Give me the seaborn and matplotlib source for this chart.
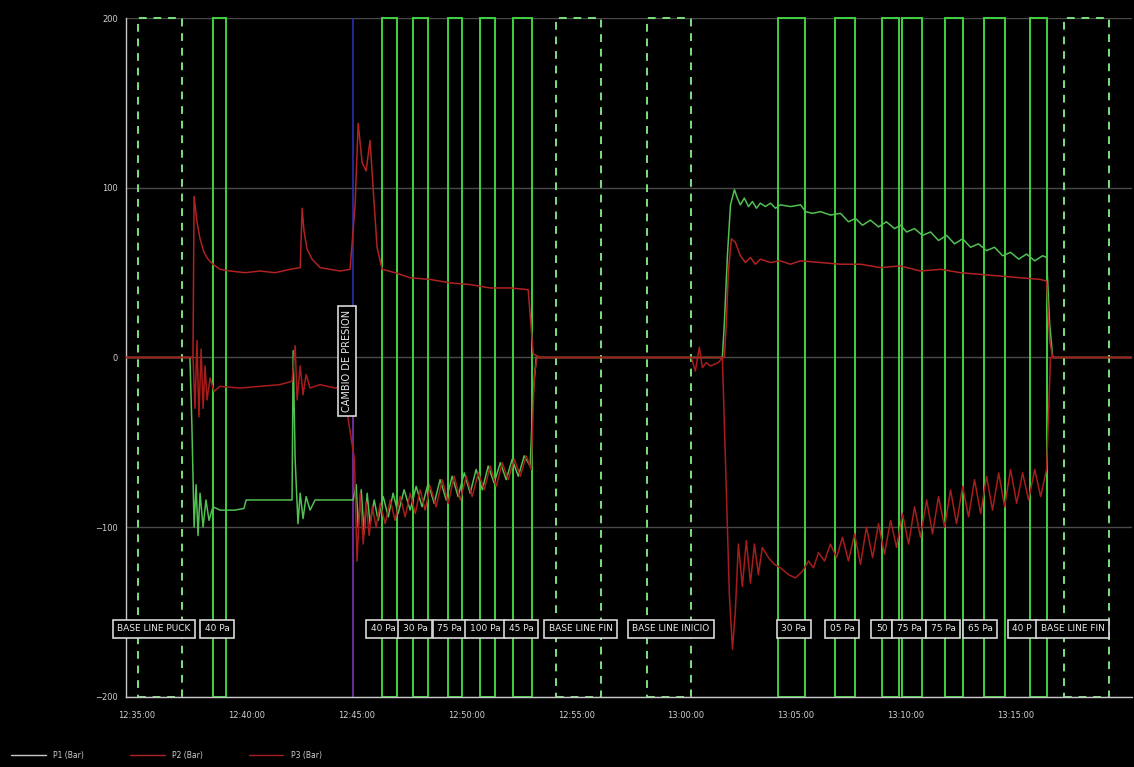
import matplotlib
matplotlib.use("Agg")
import matplotlib.pyplot as plt
from matplotlib.lines import Line2D
import pandas as pd
import seaborn as sns

# --- time origin of the record (minutes are counted from here) ---
INICIO = pd.Timestamp("2024-01-01 12:35:00")

# --- pressure traces: minutes from 12:35:00 and value (Pa) ---
t_p1 = [-0.5, 2.41, 2.5, 2.6, 2.69, 2.78, 2.87, 3.01, 3.14, 3.28, 3.46, 3.78, 4.46, 4.87, 4.97,
        5.6, 6.51, 7.06, 7.11, 7.2, 7.33, 7.43, 7.56, 7.7, 7.88, 8.11, 8.79, 9.7, 9.84, 9.98,
        10.07, 10.21, 10.34, 10.48, 10.61, 10.8, 10.98, 11.21, 11.44, 11.66, 11.89, 12.16, 12.44,
        12.71, 12.98, 13.26, 13.53, 13.8, 14.08, 14.35, 14.62, 14.9, 15.17, 15.44, 15.72, 15.99,
        16.26, 16.54, 16.81, 17.08, 17.36, 17.63, 17.9, 18.04, 18.18, 26.65, 26.74, 26.88, 27.02,
        27.2, 27.33, 27.47, 27.65, 27.84, 28.02, 28.2, 28.38, 28.61, 28.84, 29.07, 29.29, 29.75,
        30.21, 30.44, 30.75, 31.12, 31.57, 32.03, 32.39, 32.71, 33.03, 33.39, 33.76, 34.12, 34.49,
        34.76, 35.04, 35.4, 35.76, 36.13, 36.49, 36.86, 37.22, 37.59, 37.95, 38.31, 38.68, 39.04,
        39.41, 39.77, 40.14, 40.5, 40.87, 41.23, 41.41, 41.55, 41.69, 45.3]
v_p1 = [0, 0, -40, -100, -75, -105, -80, -100, -84, -96, -88, -90, -90, -89, -84,
        -84, -84, -84, 4, -60, -98, -80, -95, -82, -90, -84, -84, -84, -84, -75,
        -100, -78, -104, -80, -98, -84, -96, -82, -94, -80, -92, -78, -90,
        -76, -88, -74, -86, -72, -84, -70, -82, -68, -80, -66, -78, -64,
        -74, -62, -72, -60, -70, -58, -64, -20, 0, 0, 20, 60, 90,
        99, 94, 90, 94, 89, 92, 88, 91, 89, 91, 88, 90, 89,
        90, 86, 85, 86, 84, 85, 80, 82, 78, 81, 77, 80, 76,
        78, 74, 76, 72, 74, 69, 72, 67, 70, 65, 67, 63, 65,
        60, 62, 58, 61, 57, 60, 59, 20, 0, 0]

t_p2 = [-0.5, 2.55, 2.6, 2.73, 2.87, 3.05, 3.23, 3.46, 3.78, 4.24, 4.92, 5.6, 6.29, 6.97, 7.43,
        7.52, 7.6, 7.74, 7.97, 8.34, 8.79, 9.25, 9.7, 9.93, 10.07, 10.25, 10.43, 10.61, 10.75,
        10.93, 11.16, 11.75, 12.44, 13.35, 14.26, 15.17, 16.08, 16.99, 17.81, 18.04, 18.36,
        26.74, 26.83, 26.92, 27.06, 27.24, 27.47, 27.7, 27.93, 28.15, 28.38, 28.84, 29.29,
        29.75, 30.21, 31.12, 32.03, 32.94, 33.85, 34.76, 35.67, 36.58, 37.49, 38.4, 39.32,
        40.23, 41.14, 41.41, 41.55, 41.69, 45.3]
v_p2 = [0, 0, 95, 80, 70, 62, 58, 55, 52, 51, 50, 51, 50, 52, 53,
        88, 75, 64, 58, 53, 52, 51, 52, 90, 138, 115, 110, 128, 100,
        65, 52, 50, 47, 46, 44, 43, 41, 41, 40, 2, 0,
        0, 20, 50, 70, 68, 60, 56, 59, 55, 58, 56, 57,
        55, 57, 56, 55, 55, 53, 54, 51, 52, 50, 49, 48,
        47, 46, 45, 10, 0, 0]

t_p3 = [-0.5, 2.55, 2.64, 2.73, 2.82, 2.92, 3.01, 3.1, 3.19, 3.33, 3.51, 3.78, 4.69, 5.6, 6.51,
        7.06, 7.2, 7.29, 7.43, 7.56, 7.7, 7.88, 8.34, 9.02, 9.38, 9.9, 10.02, 10.16, 10.3,
        10.43, 10.57, 10.71, 10.89, 11.07, 11.3, 11.53, 11.75, 11.98, 12.21, 12.44, 12.67,
        12.89, 13.12, 13.35, 13.62, 13.9, 14.17, 14.44, 14.72, 14.99, 15.26, 15.54, 15.81,
        16.08, 16.36, 16.63, 16.9, 17.18, 17.45, 17.72, 17.95, 18.09, 18.22, 25.24, 25.42,
        25.6, 25.74, 25.92, 26.1, 26.47, 26.65, 26.79, 26.97, 27.11, 27.24, 27.38, 27.56,
        27.74, 27.93, 28.11, 28.29, 28.47, 28.75, 29.02, 29.29, 29.66, 29.98, 30.3, 30.57,
        30.8, 31.03, 31.3, 31.57, 31.85, 32.12, 32.39, 32.67, 32.94, 33.21, 33.49, 33.76,
        34.03, 34.31, 34.58, 34.85, 35.13, 35.4, 35.67, 35.95, 36.22, 36.49, 36.77, 37.04,
        37.31, 37.59, 37.86, 38.13, 38.41, 38.68, 38.95, 39.23, 39.5, 39.77, 40.05, 40.32,
        40.59, 40.87, 41.14, 41.41, 41.59, 45.3]
v_p3 = [0, 0, -30, 10, -35, 5, -30, -5, -25, -12, -20, -17, -18, -17, -16,
        -14, 7, -25, -5, -22, -10, -18, -16, -18, -17, -60, -120, -80, -110,
        -85, -105, -88, -100, -86, -98, -84, -96, -82, -94, -80, -92,
        -78, -90, -76, -88, -72, -86, -70, -84, -70, -82, -68, -78,
        -64, -76, -62, -72, -60, -70, -58, -66, -10, 0, 0, -8,
        6, -6, -3, -5, -3, 0, -60, -140, -172, -150, -110, -135,
        -108, -133, -110, -128, -112, -118, -122, -124, -128, -130, -126, -120,
        -124, -115, -120, -110, -118, -106, -120, -104, -122, -100, -118, -98,
        -116, -96, -112, -92, -110, -88, -106, -84, -104, -82, -100, -78,
        -98, -76, -94, -72, -92, -70, -90, -68, -88, -66, -86, -68,
        -84, -66, -82, -66, 0, 0]

# --- test windows (minutes from 12:35:00) ---
ensayo_ini = [3.45, 11.16, 12.57, 14.17, 15.63, 17.13, 29.2, 31.8, 33.9, 34.85, 36.77, 38.54, 40.64]
ensayo_fin = [4.05, 11.85, 13.26, 14.81, 16.31, 18.0, 30.39, 32.67, 34.67, 35.72, 37.59, 39.5, 41.41]
base_ini = [0.05, 19.09, 23.23, 42.19]
base_fin = [2.05, 21.14, 25.24, 44.24]

# --- window captions ---
etiqueta_t = [0.77, 3.65, 11.2, 12.67, 14.24, 15.85, 17.5, 20.2, 24.3,
              29.9, 32.1, 33.9, 35.15, 36.7, 38.4, 40.3, 42.6]
etiqueta_txt = ["BASE LINE PUCK", "40 Pa", "40 Pa", "30 Pa", "75 Pa", "100 Pa", "45 Pa",
                "BASE LINE FIN", "BASE LINE INICIO",
                "30 Pa", "05 Pa", "50", "75 Pa", "75 Pa", "65 Pa", "40 P", "BASE LINE FIN"]
etiqueta_y = -160

evento_t = 9.85
evento_txt = "CAMBIO DE PRESION"
evento_txt_t = 9.57

series = ["P1 (Bar)", "P2 (Bar)", "P3 (Bar)"]
y_ticks = [-200, -100, 0, 100, 200]
x_ticks_min = [0, 5, 10, 15, 20, 25, 30, 35, 40]
x_ticks_txt = ["12:35:00", "12:40:00", "12:45:00", "12:50:00", "12:55:00",
               "13:00:00", "13:05:00", "13:10:00", "13:15:00"]


def hora(minutos):
    return INICIO + pd.to_timedelta(minutos, unit="m")


frames = []
for nombre, t, v in zip(series, [t_p1, t_p2, t_p3], [v_p1, v_p2, v_p3]):
    frames.append(pd.DataFrame({"hora": hora(pd.Series(t, dtype=float)), "valor": v, "serie": nombre}))
datos = pd.concat(frames, ignore_index=True)

sns.set_style("dark", {"axes.facecolor": "black", "figure.facecolor": "black"})
plt.rcParams["font.family"] = ["DejaVu Sans"]

fig = plt.figure(figsize=(11.34, 7.67), dpi=100, facecolor="black")
ax = fig.add_axes([126 / 1134, 70.3 / 767, (1132 - 126) / 1134, (696.7 - 18.3) / 767])
ax.set_facecolor("black")

# horizontal reference grid
for yv in y_ticks:
    ax.axhline(yv, color="#4a4a4a", lw=1.0, zorder=0)

# test windows (solid) and baseline windows (dashed)
for a, b in zip(ensayo_ini, ensayo_fin):
    ax.axvspan(hora(a), hora(b), fill=False, edgecolor="#3fd23f", lw=1.4, zorder=2, clip_on=False)
for a, b in zip(base_ini, base_fin):
    ax.axvspan(hora(a), hora(b), fill=False, edgecolor="#7ee07e", lw=1.4, ls=(0, (4, 3.5)),
               zorder=2, clip_on=False)

paleta = {"P1 (Bar)": "#52c052", "P2 (Bar)": "#b02222", "P3 (Bar)": "#a81c1c"}
sns.lineplot(data=datos, x="hora", y="valor", hue="serie", palette=paleta, estimator=None,
             sort=False, legend=False, lw=1.1, ax=ax, zorder=3)

# event marker
ax.axvline(hora(evento_t), color="#2a2fb0", lw=1.2, zorder=2)
ax.axvline(hora(evento_t), ymin=0.0, ymax=0.5, color="#7a2a9a", lw=1.2, zorder=2)
ax.text(hora(evento_txt_t), -2, evento_txt, rotation=90, ha="center", va="center",
        fontsize=7, color="#e8e8e8", zorder=5,
        bbox=dict(boxstyle="square,pad=0.4", facecolor="black", edgecolor="#d8d8d8", lw=1.2))

# window captions
for tt, txt in zip(etiqueta_t, etiqueta_txt):
    ax.text(hora(tt), etiqueta_y, txt, ha="center", va="center", fontsize=6.5,
            color="#e8e8e8", zorder=5,
            bbox=dict(boxstyle="square,pad=0.5", facecolor="black", edgecolor="#d8d8d8", lw=1.2))

ax.set_ylim(-200, 200)
ax.set_xlim(hora(-0.5), hora(45.3))
ax.set_yticks(y_ticks)
ax.set_yticks([-150, -50, 50, 150], minor=True)
ax.set_xticks(hora(pd.Series(x_ticks_min, dtype=float)))
ax.set_xticklabels(x_ticks_txt)
ax.tick_params(axis="both", which="both", colors="#cfcfcf", labelsize=6, direction="inout",
               length=4, width=0.8)
ax.tick_params(axis="x", pad=8)
ax.tick_params(axis="y", pad=4)
ax.set_xlabel("")
ax.set_ylabel("")
ax.grid(False)
for lado in ["top", "right"]:
    ax.spines[lado].set_visible(False)
for lado in ["left", "bottom"]:
    ax.spines[lado].set_color("#c8c8c8")
    ax.spines[lado].set_linewidth(1.0)

manijas = [Line2D([0], [0], color=c, lw=1.0) for c in ["#c8c8c8", "#b02222", "#a81c1c"]]
fig.legend(manijas, series, loc="lower left", bbox_to_anchor=(0.004, 0.0), ncol=3,
           frameon=False, fontsize=5.5, labelcolor="#cfcfcf", handlelength=4.5,
           columnspacing=6, handletextpad=1.0)

fig.savefig("out.png", dpi=100, facecolor="black")
